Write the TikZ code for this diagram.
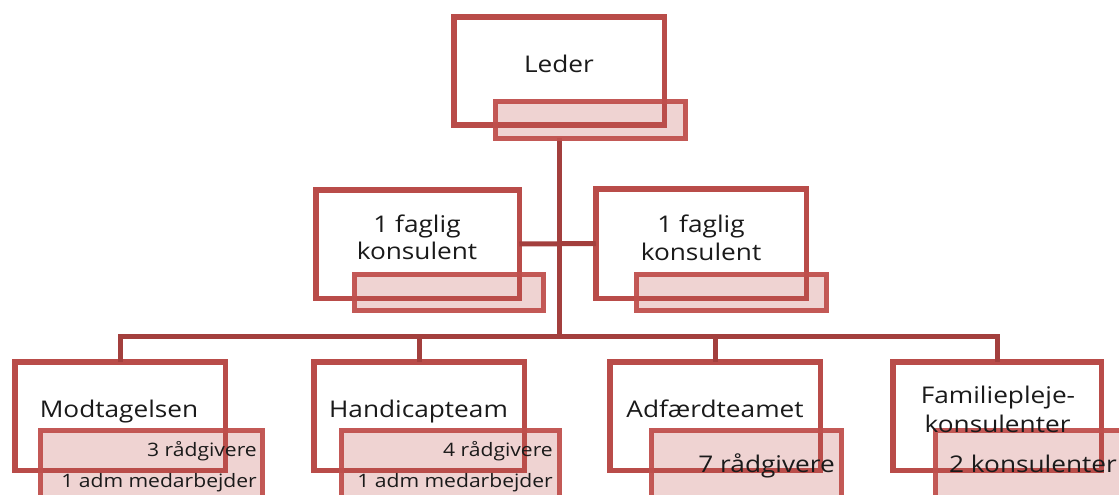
\documentclass[tikz,border=0pt]{standalone}
\usepackage{fontspec}
\setmainfont{Open Sans}[FakeStretch=1.14]
\definecolor{boxred}{HTML}{B94C49}
\definecolor{subred}{HTML}{C0504D}
\definecolor{linered}{HTML}{A33F3D}
\definecolor{txt}{HTML}{1A1A1A}
\begin{document}
\begin{tikzpicture}[x=1pt,y=-1pt,
  mainbox/.style={draw=boxred,line width=5.5pt,fill=white,inner sep=0pt,outer sep=0pt},
  subbox/.style={draw=subred,line width=5pt,fill=subred,fill opacity=0.25,draw opacity=0.95,inner sep=0pt,outer sep=0pt},
  conn/.style={draw=linered,line width=5pt},
  big/.style={font=\fontsize{23}{28}\selectfont,text=txt,inner sep=0pt},
  small/.style={font=\fontsize{18.5}{22}\selectfont,text=txt,inner sep=0pt}]
\useasboundingbox (0,0) rectangle (1119,495);
% main boxes
\node[mainbox,minimum width=210.5pt,minimum height=108pt] (leder) at (559,71) {};
\node[mainbox,minimum width=203.5pt,minimum height=108.5pt] (fk1) at (417.5,244) {};
\node[mainbox,minimum width=210.5pt,minimum height=109.5pt] (fk2) at (701,243.5) {};
\node[mainbox,minimum width=210.5pt,minimum height=108.5pt] (modt) at (120,416) {};
\node[mainbox,minimum width=210.5pt,minimum height=108.5pt] (hand) at (419,416) {};
\node[mainbox,minimum width=210.5pt,minimum height=108.5pt] (adf) at (715,416) {};
\node[mainbox,minimum width=208.5pt,minimum height=108.5pt] (fam) at (997,416) {};
% connectors
\coordinate (bus) at (559,336);
\draw[conn] (leder.center |- 0,138) -- (bus);
\draw[conn] (fk1.east) -- (fk2.west);
\draw[conn] (modt.north) |- (bus);
\draw[conn] (hand.north) |- (bus);
\draw[conn] (adf.north) |- (bus);
\draw[conn] (fam.north) |- (bus);
% sub boxes
\node[subbox,minimum width=189.5pt,minimum height=36.5pt] (ledsub) at (590.5,120) {};
\node[subbox,minimum width=188.5pt,minimum height=35.5pt] (fk1sub) at (449,292.5) {};
\node[subbox,minimum width=189.5pt,minimum height=35.5pt] (fk2sub) at (731.5,292.5) {};
\node[subbox,minimum width=221.5pt,minimum height=80pt] (modtsub) at (151.5,470.75) {};
\node[subbox,minimum width=217.5pt,minimum height=80pt] (handsub) at (450.5,470.75) {};
\node[subbox,minimum width=189.5pt,minimum height=80pt] (adfsub) at (746.5,470.75) {};
\node[subbox,minimum width=200pt,minimum height=80pt] (famsub) at (1035.75,470.75) {};
% texts
\node[big,anchor=base] (tleder) at (559,73) {Leder};
\node[big,anchor=base] (tfk1a) at (417,232) {1 faglig};
\node[big,anchor=base] (tfk1b) at (417,259) {konsulent};
\node[big,anchor=base] (tfk2a) at (701,232) {1 faglig};
\node[big,anchor=base] (tfk2b) at (701,260) {konsulent};
\node[big,anchor=base] (tmodt) at (119,417) {Modtagelsen};
\node[big,anchor=base] (thand) at (418.5,417) {Handicapteam};
\node[big,anchor=base] (tadf) at (715,417) {Adfærdteamet};
\node[big,anchor=base] (tfama) at (998,403) {Familiepleje-};
\node[big,anchor=base] (tfamb) at (997.5,432) {konsulenter};
\node[small,anchor=base east] (tm1) at (257,456) {3 rådgivere};
\node[small,anchor=base east] (tm2) at (257,487) {1 adm medarbejder};
\node[small,anchor=base east] (th1) at (553,456) {4 rådgivere};
\node[small,anchor=base east] (th2) at (553,487) {1 adm medarbejder};
\node[big,anchor=base east] (ta1) at (835,472) {7 rådgivere};
\node[big,anchor=base east] (tf1) at (1117,472) {2 konsulenter};
\end{tikzpicture}
\end{document}
